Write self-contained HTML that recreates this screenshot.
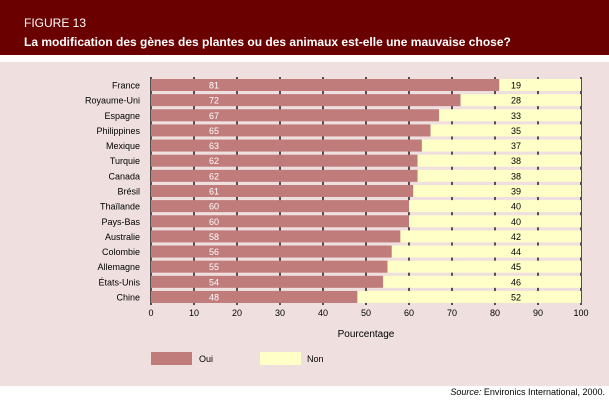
<!DOCTYPE html>
<html><head><meta charset="utf-8"><style>
body{margin:0;width:609px;height:402px;background:#fff;font-family:"Liberation Sans",sans-serif;overflow:hidden;position:relative}
.hdr{position:absolute;left:0;top:0;width:609px;height:55px;background:#6b0000;color:#fff}
.panel{position:absolute;left:0;top:62px;width:609px;height:324px;background:#efdfdf}
</style></head><body>
<div class="hdr">
<div style="position:absolute;left:24px;top:16px;font-size:12px">FIGURE 13</div>
<div style="position:absolute;left:24px;top:35px;font-size:12px;font-weight:bold">La modification des gènes des plantes ou des animaux est-elle une mauvaise chose?</div>
</div>
<div class="panel"></div>
<svg width="609" height="402" style="position:absolute;left:0;top:0" font-family="Liberation Sans, sans-serif">
<g id="g"></g>
</svg>
<div style="position:absolute;right:4px;top:387px;font-size:9px"><i>Source:</i> Environics International, 2000.</div>
<script>
var d=[["France",81],["Royaume-Uni",72],["Espagne",67],["Philippines",65],["Mexique",63],["Turquie",62],["Canada",62],["Brésil",61],["Thaïlande",60],["Pays-Bas",60],["Australie",58],["Colombie",56],["Allemagne",55],["États-Unis",54],["Chine",48]];
var s="",x0=151,k=4.3;
for(var i=0;i<=10;i++){var x=x0+i*43;s+='<line x1="'+x+'" y1="77" x2="'+x+'" y2="305" stroke="#000" stroke-width="1.3"/>';
s+='<text x="'+x+'" y="316" font-size="9" text-anchor="middle">'+(i*10)+'</text>';}
for(var i=0;i<15;i++){var y=79+i*15.14,v=d[i][1];
s+='<rect x="'+x0+'" y="'+y+'" width="'+(v*k)+'" height="12" fill="#c07b7b"/>';
s+='<rect x="'+(x0+v*k)+'" y="'+y+'" width="'+((100-v)*k)+'" height="12" fill="#ffffc8"/>';
s+='<text x="214" y="'+(y+9.5)+'" font-size="9" fill="#fff" text-anchor="middle">'+v+'</text>';
s+='<text x="516" y="'+(y+9.5)+'" font-size="9" text-anchor="middle">'+(100-v)+'</text>';
s+='<text x="140" y="'+(y+9.5)+'" font-size="9" text-anchor="end">'+d[i][0]+'</text>';}
s+='<text x="366" y="337" font-size="10" text-anchor="middle">Pourcentage</text>';
s+='<rect x="151" y="352" width="41" height="13" fill="#c07b7b"/><text x="199" y="362" font-size="9">Oui</text>';
s+='<rect x="260" y="352" width="41" height="13" fill="#ffffc8"/><text x="307" y="362" font-size="9">Non</text>';
document.getElementById("g").innerHTML=s;
</script>
</body></html>
